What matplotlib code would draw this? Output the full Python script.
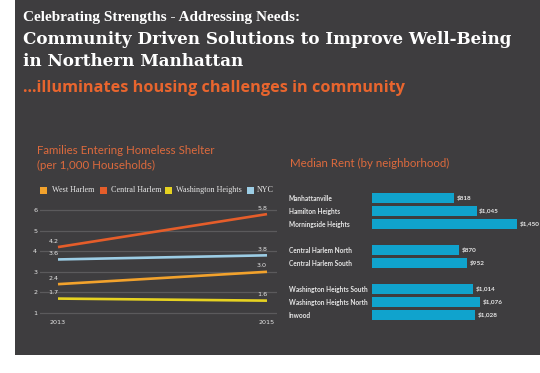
import matplotlib
matplotlib.use("Agg")
import matplotlib.pyplot as plt
from matplotlib.patches import Rectangle

W, H = 540, 373

# ---------------- data ----------------
years = [2013, 2015]
series_names = ["West Harlem", "Central Harlem", "Washington Heights", "NYC"]
west_harlem = [2.4, 3.0]
central_harlem = [4.2, 5.8]
washington_heights = [1.7, 1.6]
nyc = [3.6, 3.8]
series_colors = ["#f2a22c", "#e55d2a", "#e6d221", "#9ccde5"]
y_ticks = [1, 2, 3, 4, 5, 6]

neighborhoods = ["Manhattanville", "Hamilton Heights", "Morningside Heights",
                 "Central Harlem North", "Central Harlem South",
                 "Washington Heights South", "Washington Heights North", "Inwood"]
rent = [818, 1045, 1450, 870, 952, 1014, 1076, 1028]
rent_pos = [0, 1, 2, 4, 5, 7, 8, 9]

PANEL = "#3e3d3f"
GRID = "#5b5a5c"
ORANGE = "#e8652e"
TITLE2 = "#dd6a3d"
TXT = "#e6e6e6"


def fx(x):
    return x / W


def fy(y):
    return 1 - y / H


def ax_rect(x0, y0, x1, y1):
    return [fx(x0), fy(y1), (x1 - x0) / W, (y1 - y0) / H]


fig = plt.figure(figsize=(W / 100, H / 100), dpi=100, facecolor="white")
fig.patches.append(Rectangle((fx(15), fy(355)), 1 - fx(15), fy(0) - fy(355),
                             transform=fig.transFigure, facecolor=PANEL,
                             edgecolor="none", zorder=-10))

# ---------------- header ----------------
fig.text(fx(23), fy(17), "Celebrating Strengths - Addressing Needs:",
         family="Liberation Serif", weight="bold", fontsize=11, color="white",
         va="center", ha="left")
fig.text(fx(23), fy(40), "Community Driven Solutions to Improve Well-Being",
         family="DejaVu Serif", weight="bold", fontsize=12.1, color="white",
         va="center", ha="left")
fig.text(fx(23), fy(62), "in Northern Manhattan",
         family="DejaVu Serif", weight="bold", fontsize=12.1, color="white",
         va="center", ha="left")
fig.text(fx(23), fy(88), "...illuminates housing challenges in community",
         family="Open Sans", weight="bold", fontsize=11.7, color=ORANGE,
         va="center", ha="left")

# ---------------- line chart ----------------
fig.text(fx(37), fy(150), "Families Entering Homeless Shelter",
         family="Lato", fontsize=8.3, color=TITLE2,
         va="center", ha="left")
fig.text(fx(37), fy(165), "(per 1,000 Households)",
         family="Lato", fontsize=8.3, color=TITLE2,
         va="center", ha="left")

# legend
leg_sq = [40, 100, 165, 247]
leg_tx = [52, 111, 176, 257]
for sx, tx, name, col in zip(leg_sq, leg_tx, series_names, series_colors):
    fig.patches.append(Rectangle((fx(sx), fy(194)), 7 / W, 7 / H,
                                 transform=fig.transFigure, facecolor=col,
                                 edgecolor="none", zorder=2))
    fig.text(fx(tx), fy(190), name, family="Liberation Serif", fontsize=5.9,
             color=TXT, va="center", ha="left")

ax = fig.add_axes(ax_rect(40, 204, 277, 317))
ax.set_facecolor("none")
px_per_unit = (313 - 210) / 5.0
ax.set_ylim(1 - (317 - 313) / px_per_unit, 6 + (210 - 204) / px_per_unit)
xscale = (267 - 58) / 2.0
ax.set_xlim(2013 - (58 - 40) / xscale, 2015 + (277 - 267) / xscale)
for t in y_ticks:
    ax.axhline(t, color=GRID, lw=0.9, zorder=1)
for vals, col in zip([west_harlem, central_harlem, washington_heights, nyc], series_colors):
    ax.plot(years, vals, color=col, lw=1.9, zorder=3, solid_capstyle="butt")
    ax.annotate(f"{vals[0]:.1f}", (years[0], vals[0]), xytext=(-7, 2.5),
                textcoords="offset points", fontsize=4.6, color=TXT,
                ha="left", va="bottom")
    ax.annotate(f"{vals[1]:.1f}", (years[1], vals[1]), xytext=(0, 2.5),
                textcoords="offset points", fontsize=4.6, color=TXT,
                ha="right", va="bottom")
for s in ax.spines.values():
    s.set_visible(False)
ax.set_yticks(y_ticks)
ax.set_yticklabels([str(t) for t in y_ticks])
ax.set_xticks(years)
ax.set_xticklabels([str(y) for y in years])
ax.tick_params(length=0, labelsize=4.6, labelcolor=TXT, pad=2)

# ---------------- bar chart ----------------
fig.text(fx(290), fy(163), "Median Rent (by neighborhood)",
         family="Lato", fontsize=8.3, color=TITLE2,
         va="center", ha="left")

bx = fig.add_axes(ax_rect(372, 190, 530, 323))
bx.set_facecolor("none")
bx.set_xlim(0, 1580)
bx.set_ylim(9 + (323 - 315) / 13.0, -(198 - 190) / 13.0)
bx.barh(rent_pos, rent, height=0.72, color="#10a3cd", zorder=2)
for p, v in zip(rent_pos, rent):
    bx.annotate(f"${v:,}", (v, p), xytext=(2, 0), textcoords="offset points",
                fontsize=4.6, color=TXT, ha="left", va="center",
                family="Lato", weight="bold")
bx.set_yticks(rent_pos)
bx.set_yticklabels(neighborhoods)
bx.tick_params(axis="y", length=0, labelsize=4.7, labelcolor=TXT, pad=60)
for lab in bx.get_yticklabels():
    lab.set_horizontalalignment("left")
    lab.set_fontweight("bold")
    lab.set_family("Lato")
bx.set_xticks([])
for s in bx.spines.values():
    s.set_visible(False)

fig.savefig("out.png", dpi=100, facecolor="white")
